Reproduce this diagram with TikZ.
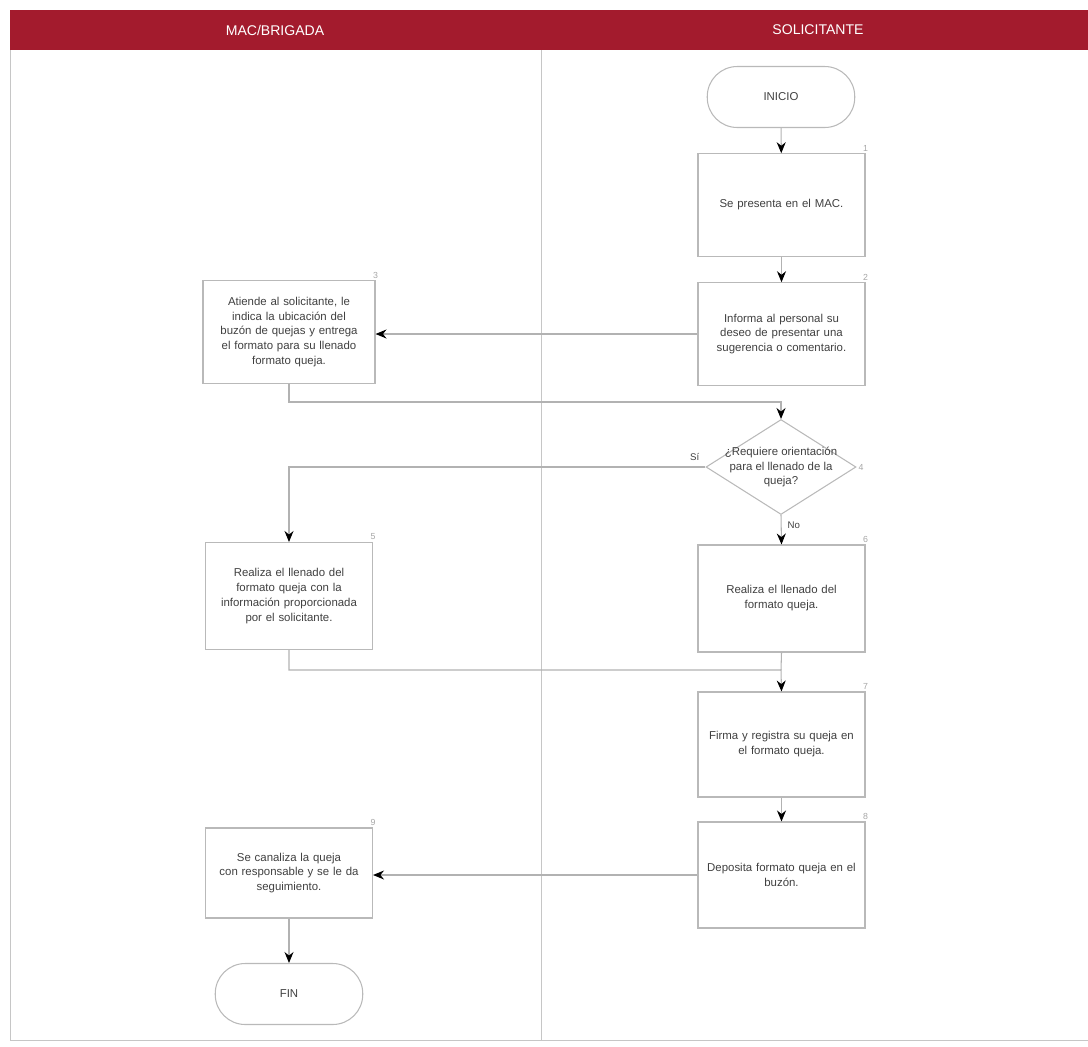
\documentclass[tikz,border=0pt]{standalone}
\usepackage{fontspec}
\setmainfont{Liberation Sans}
\usetikzlibrary{shapes.geometric,arrows.meta}
\definecolor{bandred}{RGB}{163,27,45}

\begin{document}
\begin{tikzpicture}[
    proc/.style={draw=gray!55, line width=0.6pt, minimum width=3.34cm, minimum height=2.05cm,
                 text width=3.1cm, align=center, font=\fontsize{6.5}{8.5}\selectfont, text=black!75},
    term/.style={draw=gray!55, line width=0.6pt, rounded corners=0.6cm, minimum width=2.95cm,
                 minimum height=1.22cm, font=\fontsize{6.5}{8.5}\selectfont, text=black!75},
    decis/.style={draw=gray!55, line width=0.6pt, diamond, minimum width=3cm, minimum height=1.9cm, inner sep=0pt},
    txt/.style={align=center, font=\fontsize{6.5}{8.5}\selectfont, text=black!75},
    num/.style={font=\fontsize{5}{6}\selectfont, text=gray!70, anchor=south, inner sep=1pt},
    link/.style={draw=gray!60, line width=0.6pt},
    flow/.style={link, -{Stealth[length=2.2mm, width=1.8mm, color=black]}}
]
\useasboundingbox (0,0) rectangle (21.76,-20.92);

% carriles
\fill[bandred] (0.2,-0.2) rectangle (21.76,-1.0);
\node[white, font=\fontsize{8}{10}\selectfont] (hmac) at (5.5,-0.6) {MAC/BRIGADA};
\node[white, font=\fontsize{8}{10}\selectfont] (hsol) at (16.36,-0.6) {SOLICITANTE};
\draw[gray!45, thin] (0.2,-1.0) -- (0.2,-20.8) -- (21.76,-20.8);
\draw[gray!45, thin] (10.82,-1.0) -- (10.82,-20.8);

% nodos
\node[term] (inicio) at (15.62,-1.94) {INICIO};
\node[proc] (b1) at (15.63,-4.1) {Se presenta en el MAC.};
\node[proc] (b2) at (15.63,-6.68) {Informa al personal su\\deseo de presentar una\\sugerencia o comentario.};
\node[proc, minimum width=3.44cm] (b3) at (5.78,-6.64) {Atiende al solicitante, le\\indica la ubicación del\\buzón de quejas y entrega\\el formato para su llenado\\formato queja.};
\node[decis, label={[txt]center:¿Requiere orientación\\para el llenado de la\\queja?}] (dia) at (15.62,-9.34) {};
\node[proc, minimum height=2.14cm] (b4) at (5.78,-11.92) {Realiza el llenado del\\formato queja con la\\información proporcionada\\por el solicitante.};
\node[proc, minimum height=2.14cm] (b5) at (15.63,-11.97) {Realiza el llenado del\\formato queja.};
\node[proc, minimum height=2.1cm] (b6) at (15.63,-14.89) {Firma y registra su queja en\\el formato queja.};
\node[proc, minimum height=2.12cm] (b7) at (15.63,-17.5) {Deposita formato queja en el\\buzón.};
\node[proc, minimum height=1.8cm] (b8) at (5.78,-17.46) {Se canaliza la queja\\con responsable y se le da\\seguimiento.};
\node[term] (fin) at (5.78,-19.88) {FIN};

% numeros de actividad
\foreach \n/\k in {b1/1,b2/2,b3/3,b4/5,b5/6,b6/7,b7/8,b8/9}
    \node[num] at (\n.north east) {\k};
\node[num, anchor=west] at (dia.east) {4};

% conectores
\coordinate (j1) at (15.62,-8.04);
\coordinate (j2) at (15.62,-13.4);
\draw[flow] (inicio) -- (b1);
\draw[flow] (b1) -- (b2);
\draw[flow] (b2.west) -- (b2.west -| b3.east);
\draw[flow] (b3.south) |- (j1) -- (dia.north);
\draw[flow] (dia.west) -| (b4.north);
\node[txt, font=\fontsize{5.5}{7}\selectfont, anchor=south east] (si) at (dia.west) {Sí};
\draw[flow] (dia.south) -- (b5.north) node[txt, font=\fontsize{5.5}{7}\selectfont, pos=0.35, right] (no) {No};
\draw[link] (b5.south) -- (j2);
\draw[flow] (b4.south) |- (j2) -- (b6.north);
\draw[flow] (b6) -- (b7);
\draw[flow] (b7.west) -- (b7.west -| b8.east);
\draw[flow] (b8) -- (fin);
\end{tikzpicture}
\end{document}
